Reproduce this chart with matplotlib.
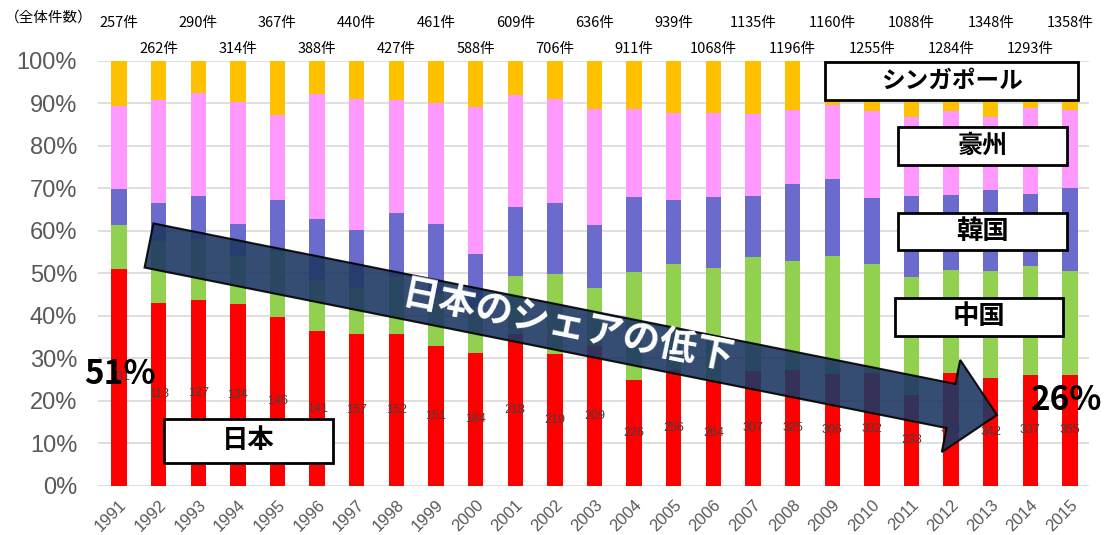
import matplotlib.pyplot as plt
import numpy as np
from matplotlib.patches import Polygon, Rectangle

plt.rcParams['font.family'] = ['Noto Sans CJK JP', 'DejaVu Sans']

years = ['1991', '1992', '1993', '1994', '1995', '1996', '1997', '1998', '1999', '2000',
         '2001', '2002', '2003', '2004', '2005', '2006', '2007', '2008', '2009', '2010',
         '2011', '2012', '2013', '2014', '2015']
totals = [257, 262, 290, 314, 367, 388, 440, 427, 461, 588, 609, 706, 636, 911, 939,
          1068, 1135, 1196, 1160, 1255, 1088, 1284, 1348, 1293, 1358]
japan_counts = [131, 113, 127, 134, 146, 141, 157, 152, 151, 184, 218, 219, 209, 226, 256,
                264, 307, 325, 306, 332, 233, 341, 342, 337, 355]

# shares in %
japan = [51.0, 43.1, 43.8, 42.7, 39.8, 36.3, 35.7, 35.6, 32.8, 31.3, 35.8, 31.0, 32.9, 24.8, 27.3,
         24.7, 27.0, 27.2, 26.4, 26.5, 21.4, 26.6, 25.4, 26.1, 26.1]
china = [10.3, 14.4, 14.2, 11.3, 15.5, 12.1, 10.8, 13.6, 12.2, 10.7, 13.5, 18.9, 13.7, 25.4, 24.9,
         26.6, 26.7, 25.6, 27.7, 25.7, 27.7, 24.1, 25.1, 25.5, 24.5]
korea = [8.6, 9.1, 10.2, 7.6, 11.9, 14.4, 13.6, 15.0, 16.6, 12.6, 16.3, 16.7, 14.7, 17.7, 15.0,
         16.6, 14.5, 18.2, 18.1, 15.6, 19.0, 17.7, 19.1, 17.0, 19.5]
australia = [19.4, 24.1, 24.1, 28.8, 20.1, 29.4, 30.9, 26.5, 28.4, 34.5, 26.3, 24.3, 27.4, 20.7, 20.5,
             19.7, 19.2, 17.5, 17.3, 20.3, 18.7, 19.8, 17.2, 20.3, 18.2]
singapore = [10.7, 9.3, 7.7, 9.6, 12.7, 7.8, 9.0, 9.3, 10.0, 10.9, 8.1, 9.1, 11.3, 11.4, 12.3,
             12.4, 12.6, 11.5, 10.5, 11.9, 13.2, 11.8, 13.2, 11.1, 11.7]

series = [japan, china, korea, australia, singapore]
colors = ['#FF0000', '#92D050', '#6B6BCE', '#FF99FF', '#FFC000']

W, H = 1108, 535
fig = plt.figure(figsize=(W / 100, H / 100), dpi=100)
ax = fig.add_axes([98 / W, 1 - 485.7 / H, (1089 - 98) / W, 425 / H])

data = np.array(series, dtype=float)
data = data / data.sum(axis=0)  # 100% stacked
x = np.arange(len(years))
bottom = np.zeros(len(years))
for vals, c in zip(data, colors):
    ax.bar(x, vals, 0.39, bottom=bottom, color=c, zorder=2)
    bottom += vals

ax.set_ylim(0, 1)
ax.set_xlim(-0.53, len(years) - 0.52)
ax.set_yticks(np.arange(0, 1.01, 0.1))
ax.set_yticklabels(['%d%%' % v for v in range(0, 101, 10)], family='Liberation Sans',
                   fontsize=17, color='#595959')
ax.set_xticks(x)
ax.set_xticklabels(years, rotation=45, ha='right', va='top', rotation_mode='anchor',
                   family='Liberation Sans', fontsize=12, color='#595959')
ax.tick_params(axis='y', length=0, pad=15)
ax.tick_params(axis='x', length=0, pad=8)
ax.grid(axis='y', color='#D9D9D9', linewidth=1.2, zorder=0)
for s in ax.spines.values():
    s.set_visible(False)

# japan counts in the middle of the red part
for i in range(len(years)):
    ax.text(x[i], data[0][i] / 2, str(japan_counts[i]), ha='center', va='center',
            fontsize=9, color='#404040', family='Liberation Sans', zorder=3)

# total counts above the bars, two rows
for i in range(len(years)):
    yy = 1.088 if i % 2 == 0 else 1.028
    ax.text(x[i], yy, '%d件' % totals[i], transform=ax.get_xaxis_transform(),
            ha='center', va='center', fontsize=10.5, color='black', clip_on=False)

fig.text(5 / W, 1 - 18 / H, '（全体件数）', ha='left', va='center', fontsize=10.5)


def fpx(px, py):
    return (px / W, 1 - py / H)


# arrow "日本のシェアの低下"
S = np.array([149.0, 245.5])
B = np.array([951.0, 406.0])
T = np.array([997.0, 415.0])
d = (B - S) / np.linalg.norm(B - S)
n = np.array([-d[1], d[0]])
w, hw = 22.5, 47.0
pts = [S - n * w, B - n * w, B - n * hw, T, B + n * hw, B + n * w, S + n * w]
arrow = Polygon([fpx(*p) for p in pts], closed=True, transform=fig.transFigure,
                facecolor='#1F3864', edgecolor='black', linewidth=1.5, alpha=0.9, zorder=5)
fig.patches.append(arrow)
ang = -np.degrees(np.arctan2(B[1] - S[1], B[0] - S[0]))
fig.text(*fpx(568, 326), '日本のシェアの低下', rotation=ang, rotation_mode='anchor',
         ha='center', va='center', fontsize=27, fontweight='bold', color='white', zorder=6)

# label boxes
boxes = [('シンガポール', 825, 62, 1078, 100, 17),
         ('豪州', 898, 127, 1067, 165, 18),
         ('韓国', 898, 213, 1067, 250, 19),
         ('中国', 895, 298, 1063, 336, 19),
         ('日本', 164, 419, 333, 463, 19)]
for label, x0, y0, x1, y1, fs in boxes:
    r = Rectangle(fpx(x0, y1), (x1 - x0) / W, (y1 - y0) / H, transform=fig.transFigure,
                  facecolor='white', edgecolor='black', linewidth=2, zorder=7)
    fig.patches.append(r)
    fig.text(*fpx((x0 + x1) / 2, (y0 + y1) / 2), label, ha='center', va='center',
             fontsize=fs, fontweight='bold', color='black', zorder=8)

fig.text(*fpx(120, 374), '51%', ha='center', va='center', fontsize=24, fontweight='bold',
         zorder=9)
fig.text(*fpx(1067, 400), '26%', ha='center', va='center', fontsize=24, fontweight='bold',
         zorder=9)

fig.savefig('out.png', dpi=100)
